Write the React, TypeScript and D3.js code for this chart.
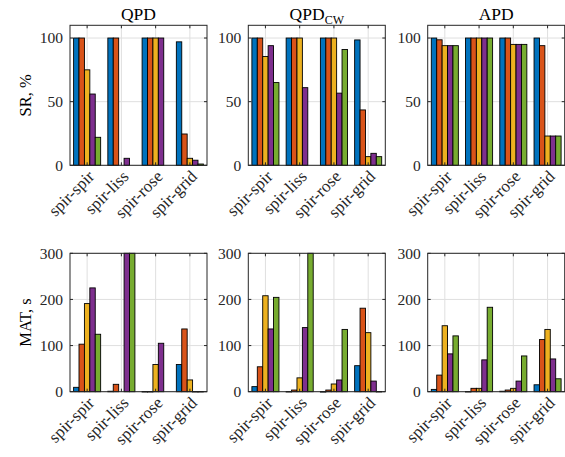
import React from 'react';
import * as d3 from 'd3';

// categories on x, five series per group (MATLAB default colours)
const categories = ['spir-spir', 'spir-liss', 'spir-rose', 'spir-grid'];
const colors = ['#0072BD', '#D95319', '#EDB120', '#7E2F8E', '#77AC30'];

// success rate, % (one row per category, one value per series)
const srQPD = [[100, 100, 75, 56, 22], [100, 100, 0, 5.5, 0], [100, 100, 100, 100, 0], [97, 24.6, 5.5, 4, 1]];
const srQPDcw = [[100, 100, 85.5, 94, 65], [100, 100, 100, 61, 0], [100, 100, 100, 56.7, 91], [98.5, 43.5, 6.8, 9.4, 6.8]];
const srAPD = [[100, 98.6, 94, 94, 94], [100, 100, 100, 100, 100], [100, 100, 95, 95, 95], [100, 94, 23, 23, 23]];

// mean time, s
const matQPD = [[9.5, 103, 191, 225, 124.5], [1, 16, 0, 320, 320], [0.5, 0.5, 59, 105, 0], [59, 136, 25.5, 0.5, 0.5]];
const matQPDcw = [[11, 54, 208, 136, 204.5], [0.5, 3.6, 30, 139, 320], [0.3, 3.6, 16.7, 25.4, 135], [56.4, 181, 128, 23, 0.5]];
const matAPD = [[5, 36, 143, 82, 121], [0.5, 7.3, 7.3, 69, 183], [1, 3.6, 7.3, 23, 77.5], [15, 113, 135, 71, 28]];

const srTicks = [0, 50, 100];
const matTicks = [0, 100, 200, 300];

const W = 565, H = 457;
const panelLeft = [70, 248.3, 427.7];
const panelW = 137;
const font = '"Liberation Serif", "Times New Roman", serif';
const axisColor = '#262626';

type PanelProps = {
  data: number[][];
  left: number;
  top: number;
  bottom: number;
  domainMax: number;
  ticks: number[];
  title?: React.ReactNode;
  ylabel?: string;
};

const Panel = ({ data, left, top, bottom, domainMax, ticks, title, ylabel }: PanelProps) => {
  const x = d3.scaleLinear().domain([0.5, categories.length + 0.5]).range([left, left + panelW]);
  const y = d3.scaleLinear().domain([0, domainMax]).range([bottom, top]).clamp(true);
  const groupW = 0.79;
  const barW = groupW / colors.length;
  const tickLen = 3;

  return (
    <g>
      {/* grid */}
      {ticks.map(t => (
        <line key={'gy' + t} x1={left} x2={left + panelW} y1={y(t)} y2={y(t)} stroke="#dfdfdf" strokeWidth={1} />
      ))}
      {categories.map((c, i) => (
        <line key={'gx' + c} x1={x(i + 1)} x2={x(i + 1)} y1={top} y2={bottom} stroke="#dfdfdf" strokeWidth={1} />
      ))}
      {/* bars */}
      {data.map((row, i) =>
        row.map((v, j) => {
          if (v <= 0) return null;
          const x0 = x(i + 1 - groupW / 2 + j * barW);
          const x1 = x(i + 1 - groupW / 2 + (j + 1) * barW);
          return (
            <rect key={i + '-' + j} x={x0} y={y(v)} width={x1 - x0} height={Math.max(0.5, y(0) - y(v))}
              fill={colors[j]} stroke="#000" strokeWidth={0.9} />
          );
        })
      )}
      {/* box */}
      <rect x={left} y={top} width={panelW} height={bottom - top} fill="none" stroke={axisColor} strokeWidth={1} />
      {/* ticks */}
      {ticks.map(t => (
        <g key={'ty' + t}>
          <line x1={left} x2={left + tickLen} y1={y(t)} y2={y(t)} stroke={axisColor} />
          <line x1={left + panelW} x2={left + panelW - tickLen} y1={y(t)} y2={y(t)} stroke={axisColor} />
          <text x={left - 7} y={y(t)} dy="0.35em" textAnchor="end" fontFamily={font} fontSize={15.5} fill={axisColor}>{t}</text>
        </g>
      ))}
      {categories.map((c, i) => (
        <g key={'tx' + c}>
          <line x1={x(i + 1)} x2={x(i + 1)} y1={bottom} y2={bottom - tickLen} stroke={axisColor} />
          <line x1={x(i + 1)} x2={x(i + 1)} y1={top} y2={top + tickLen} stroke={axisColor} />
          <text transform={`translate(${x(i + 1) + 4},${bottom + 8}) rotate(-45)`} dy="0.35em" textAnchor="end"
            fontFamily={font} fontSize={17} fill={axisColor}>{c}</text>
        </g>
      ))}
      {title && (
        <text x={left + panelW / 2} y={20} textAnchor="middle" fontFamily={font} fontSize={17.5} fill="#000">{title}</text>
      )}
      {ylabel && (
        <text transform={`translate(31,${(top + bottom) / 2}) rotate(-90)`} textAnchor="middle"
          fontFamily={font} fontSize={16.5} fill="#000">{ylabel}</text>
      )}
    </g>
  );
};

export default function App() {
  const topRow = { top: 25.3, bottom: 165.3, domainMax: 110, ticks: srTicks };
  const botRow = { top: 253.3, bottom: 391.7, domainMax: 300, ticks: matTicks };
  return (
    <svg width={W} height={H} style={{ position: 'absolute', left: 0, top: 0, background: '#fff' }}>
      <rect width={W} height={H} fill="#fff" />
      <Panel data={srQPD} left={panelLeft[0]} {...topRow} title="QPD" ylabel="SR, %" />
      <Panel data={srQPDcw} left={panelLeft[1]} {...topRow}
        title={<>QPD<tspan fontSize={12} dy={4}>CW</tspan></>} />
      <Panel data={srAPD} left={panelLeft[2]} {...topRow} title="APD" />
      <Panel data={matQPD} left={panelLeft[0]} {...botRow} ylabel="MAT, s" />
      <Panel data={matQPDcw} left={panelLeft[1]} {...botRow} />
      <Panel data={matAPD} left={panelLeft[2]} {...botRow} />
    </svg>
  );
}
